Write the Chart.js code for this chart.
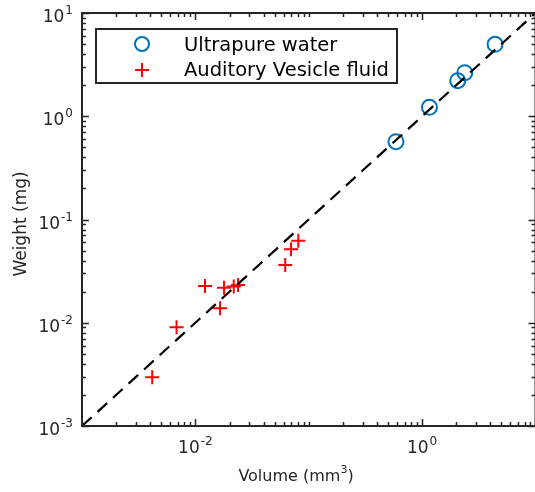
<!DOCTYPE html>
<html>
<head>
<meta charset="utf-8">
<script src="https://cdn.jsdelivr.net/npm/chart.js@4/dist/chart.umd.min.js"></script>
<style>
  html, body { margin: 0; padding: 0; background: #fff; overflow: hidden; }
  canvas { display: block; }
</style>
</head>
<body>
<canvas id="grafico" width="545" height="492"></canvas>
<script>
// datos
const waterVolume = [0.588, 1.16, 2.06, 2.38, 4.40];
const waterWeight = [0.567, 1.22, 2.21, 2.64, 4.97];

const fluidVolume = [0.00416, 0.00682, 0.01216, 0.0165, 0.0179, 0.0218, 0.0238, 0.0620, 0.0698, 0.0809];
const fluidWeight = [0.00296, 0.00903, 0.0227, 0.0138, 0.0218, 0.0224, 0.0232, 0.0362, 0.0514, 0.0623];

const fitLine = [0.001, 10];

const xMajorTicks = [1e-2, 1];
const xTickExps = ['-2', '0'];
const yMajorTicks = [1e-3, 1e-2, 1e-1, 1, 10];
const yTickExps = ['-3', '-2', '-1', '0', '1'];

const legendLabels = ['Ultrapure water', 'Auditory Vesicle fluid'];

const AXIS_COLOR = '#262626';
const FONT = '"DejaVu Sans", sans-serif';

function toPoints(xs, ys) {
    return xs.map((v, i) => ({ x: v, y: ys[i] }));
}

// "10" con exponente arriba
function drawPower(ctx, exp, x, y, align) {
    ctx.font = '17px ' + FONT;
    const wBase = ctx.measureText('10').width;
    ctx.font = '12px ' + FONT;
    const wExp = ctx.measureText(exp).width;
    const total = wBase + wExp + 1;
    let start = x;
    if (align === 'center') start = x - total / 2;
    if (align === 'right') start = x - total;
    ctx.textAlign = 'left';
    ctx.textBaseline = 'alphabetic';
    ctx.font = '17px ' + FONT;
    ctx.fillText('10', start, y);
    ctx.font = '12px ' + FONT;
    ctx.fillText(exp, start + wBase + 1, y - 8);
}

function minorValues(min, max) {
    const vals = [];
    for (let e = Math.round(Math.log10(min)); e < Math.round(Math.log10(max)); e++) {
        for (let k = 1; k < 10; k++) vals.push(k * Math.pow(10, e));
    }
    vals.push(max);
    return vals;
}

const ejesMatlab = {
    id: 'ejesMatlab',
    afterDatasetsDraw(chart) {
        const { ctx, chartArea: a, scales } = chart;
        const x = scales.x, y = scales.y;
        ctx.save();
        ctx.strokeStyle = AXIS_COLOR;
        ctx.fillStyle = AXIS_COLOR;
        ctx.lineWidth = 1.5;

        // marcas del eje x (abajo y arriba)
        minorValues(x.min, x.max).forEach(v => {
            const px = Math.round(x.getPixelForValue(v)) + 0.5;
            const len = xMajorTicks.some(t => Math.abs(t - v) < t * 1e-6) ? 7 : 4;
            ctx.beginPath();
            ctx.moveTo(px, a.bottom); ctx.lineTo(px, a.bottom - len);
            ctx.moveTo(px, a.top); ctx.lineTo(px, a.top + len);
            ctx.stroke();
        });
        // marcas del eje y (izquierda y derecha)
        minorValues(y.min, y.max).forEach(v => {
            const py = Math.round(y.getPixelForValue(v)) + 0.5;
            const len = yMajorTicks.some(t => Math.abs(t - v) < t * 1e-6) ? 7 : 4;
            ctx.beginPath();
            ctx.moveTo(a.left, py); ctx.lineTo(a.left + len, py);
            ctx.moveTo(a.right, py); ctx.lineTo(a.right - len, py);
            ctx.stroke();
        });

        ctx.lineWidth = 2;
        ctx.strokeRect(a.left, a.top, a.right - a.left, a.bottom - a.top);

        // etiquetas
        xMajorTicks.forEach((v, i) => {
            drawPower(ctx, xTickExps[i], x.getPixelForValue(v), a.bottom + 27, 'center');
        });
        yMajorTicks.forEach((v, i) => {
            drawPower(ctx, yTickExps[i], a.left - 9, y.getPixelForValue(v) + 9, 'right');
        });

        // titulos de ejes
        ctx.font = '16px ' + FONT;
        const w1 = ctx.measureText('Volume (mm').width;
        ctx.font = '11px ' + FONT;
        const w2 = ctx.measureText('3').width;
        ctx.font = '16px ' + FONT;
        const w3 = ctx.measureText(')').width;
        let sx = 296 - (w1 + w2 + w3) / 2;
        ctx.textAlign = 'left';
        ctx.fillText('Volume (mm', sx, 481);
        ctx.font = '11px ' + FONT;
        ctx.fillText('3', sx + w1, 473);
        ctx.font = '16px ' + FONT;
        ctx.fillText(')', sx + w1 + w2, 481);

        ctx.save();
        ctx.translate(26, 224);
        ctx.rotate(-Math.PI / 2);
        ctx.textAlign = 'center';
        ctx.font = '17px ' + FONT;
        ctx.fillText('Weight (mg)', 0, 0);
        ctx.restore();

        // leyenda
        ctx.fillStyle = '#fff';
        ctx.fillRect(96, 29, 301, 54);
        ctx.lineWidth = 2;
        ctx.strokeStyle = AXIS_COLOR;
        ctx.strokeRect(96, 29, 301, 54);

        const ds = chart.data.datasets;
        ctx.lineWidth = 2;
        ctx.strokeStyle = ds[0].borderColor;
        ctx.beginPath();
        ctx.arc(142, 44, 7, 0, Math.PI * 2);
        ctx.stroke();
        ctx.strokeStyle = ds[1].borderColor;
        ctx.beginPath();
        ctx.moveTo(135, 70); ctx.lineTo(149, 70);
        ctx.moveTo(142, 63); ctx.lineTo(142, 77);
        ctx.stroke();

        ctx.fillStyle = '#000';
        ctx.font = '19.5px ' + FONT;
        ctx.textAlign = 'left';
        ctx.fillText(legendLabels[0], 184, 51);
        ctx.fillText(legendLabels[1], 184, 76);
        ctx.restore();
    }
};

const ctx = document.getElementById('grafico').getContext('2d');

new Chart(ctx, {
    type: 'scatter',
    data: {
        datasets: [{
            label: legendLabels[0],
            data: toPoints(waterVolume, waterWeight),
            pointStyle: 'circle',
            pointRadius: 7.5,
            borderColor: '#0072BD',
            backgroundColor: 'rgba(0,0,0,0)',
            pointBorderWidth: 2,
            order: 1
        }, {
            label: legendLabels[1],
            data: toPoints(fluidVolume, fluidWeight),
            pointStyle: 'cross',
            pointRadius: 7,
            borderColor: '#FF0000',
            backgroundColor: '#FF0000',
            pointBorderWidth: 2,
            order: 1
        }, {
            label: 'fit',
            data: toPoints(fitLine, fitLine),
            showLine: true,
            pointRadius: 0,
            borderColor: '#000',
            borderWidth: 2.2,
            borderDash: [13, 8],
            order: 0
        }]
    },
    options: {
        responsive: false,
        animation: false,
        devicePixelRatio: 1,
        layout: { padding: { left: 82, top: 13, right: 6, bottom: 66 } },
        plugins: {
            legend: { display: false },
            tooltip: { enabled: false }
        },
        scales: {
            x: {
                type: 'logarithmic',
                min: 1e-3, max: 10,
                ticks: { display: false },
                grid: { display: false, drawTicks: false },
                border: { display: false }
            },
            y: {
                type: 'logarithmic',
                min: 1e-3, max: 10,
                ticks: { display: false },
                grid: { display: false, drawTicks: false },
                border: { display: false }
            }
        }
    },
    plugins: [ejesMatlab]
});
</script>
</body>
</html>
